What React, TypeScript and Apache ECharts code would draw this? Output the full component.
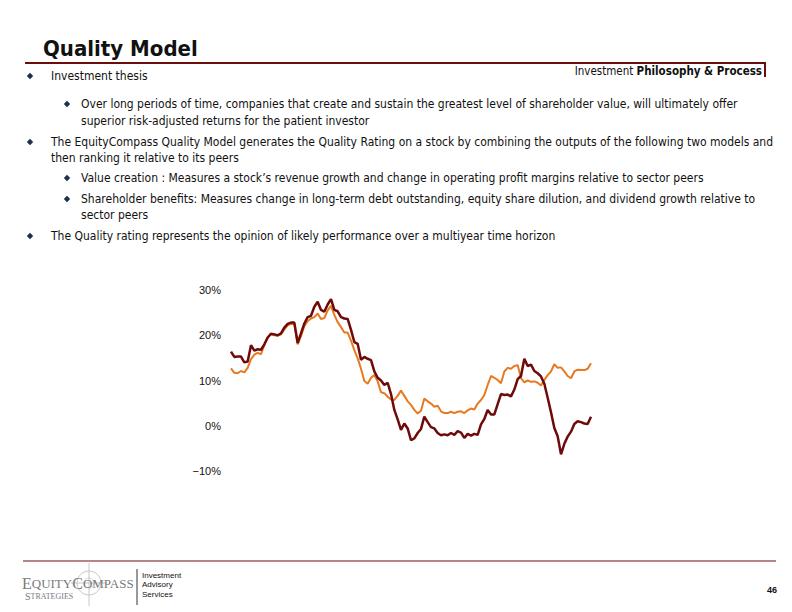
import React, { useEffect, useRef } from "react";
import * as echarts from "echarts";

const yTicks = [-10, 0, 10, 20, 30];

const seriesDark = [
  16.4, 15.2, 15.3, 15.3, 14.0, 14.2, 17.8, 16.6, 16.9, 16.8,
  18.0, 19.5, 20.3, 20.2, 20.0, 20.4, 21.7, 22.5, 22.8, 22.8,
  18.3, 20.4, 22.6, 24.0, 24.3, 26.3, 27.4, 25.6, 25.2, 26.8,
  28.0, 25.6, 25.3, 24.0, 23.7, 23.6, 21.2, 18.5, 18.1, 14.6,
  15.2, 14.8, 14.5, 12.0, 10.6, 10.0, 9.0, 9.5, 7.0, 3.5,
  1.4, -0.9, 0.5, -0.6, -3.2, -2.8, -1.6, -0.7, 2.0, 0.8,
  -0.3, -0.6, -1.6, -2.1, -1.9, -2.1, -1.6, -2.0, -1.2, -1.5,
  -2.7, -1.8, -2.2, -1.8, -2.0, 0.3, 1.5, 3.5, 2.5, 2.5,
  4.8, 7.0, 6.8, 6.9, 6.5, 8.0, 10.3, 11.0, 14.8, 13.2,
  13.5, 12.1, 11.6, 10.9, 9.3, 6.2, 3.0, -0.5, -2.3, -6.3,
  -4.0, -2.4, -1.3, 0.4, 1.0, 0.8, 0.5, 0.4, 2.0,
];

const seriesOrange = [
  12.7, 11.7, 11.6, 12.1, 11.8, 12.8, 14.7, 15.7, 16.1, 15.8,
  17.8, 19.5, 20.4, 20.0, 19.9, 20.2, 21.3, 22.2, 22.5, 22.5,
  18.0, 19.8, 22.0, 23.1, 23.7, 24.0, 24.8, 23.6, 23.8, 25.5,
  26.5, 24.5, 22.9, 21.8, 20.6, 20.6, 18.8, 16.7, 14.9, 12.6,
  9.9, 9.3, 10.6, 11.2, 9.8, 7.4, 7.2, 6.4, 5.8, 5.7,
  6.6, 7.8, 6.6, 5.4, 4.6, 3.5, 2.7, 3.3, 6.0, 5.4,
  4.9, 4.2, 4.4, 3.2, 2.8, 2.8, 3.1, 2.8, 3.1, 3.2,
  2.8, 3.4, 3.8, 3.6, 4.9, 5.7, 6.8, 9.0, 11.0, 10.6,
  10.1, 9.4, 12.0, 12.8, 12.6, 13.2, 13.4, 10.5, 9.6, 10.0,
  9.7, 9.8, 9.5, 8.9, 10.1, 11.2, 12.0, 13.6, 12.8, 12.9,
  12.0, 11.0, 10.5, 12.0, 12.4, 12.3, 12.3, 12.6, 13.8,
];

const periods = seriesDark.map((_, i) => String(i + 1));

const titleText = "Quality Model";
const headerPlain = "Investment ";
const headerBold = "Philosophy & Process";
const pageNumber = "46";
const footerLines = ["Investment", "Advisory", "Services"];

type Line = { level: number; bullet: boolean; text: string };
const bodyLines: Line[] = [
  { level: 1, bullet: true, text: "Investment thesis" },
  { level: 2, bullet: true, text: "Over long periods of time, companies that create and sustain the greatest level of shareholder value, will ultimately offer" },
  { level: 2, bullet: false, text: "superior risk-adjusted returns for the patient investor" },
  { level: 1, bullet: true, text: "The EquityCompass Quality Model generates the Quality Rating on a stock by combining the outputs of the following two models and" },
  { level: 1, bullet: false, text: "then ranking it relative to its peers" },
  { level: 2, bullet: true, text: "Value creation : Measures a stock\u2019s revenue growth and change in operating profit margins relative to sector peers" },
  { level: 2, bullet: true, text: "Shareholder benefits: Measures change in long-term debt outstanding, equity share dilution, and dividend growth relative to" },
  { level: 2, bullet: false, text: "sector peers" },
  { level: 1, bullet: true, text: "The Quality rating represents the opinion of likely performance over a multiyear time horizon" },
];
const lineYs = [76, 104, 121, 142, 158, 178, 199, 215, 236];

const BODY_FONT = '"DejaVu Sans Condensed", "DejaVu Sans", sans-serif';
const MAROON = "#6b0d0d";

export default function App() {
  const ref = useRef<HTMLDivElement>(null);
  useEffect(() => {
    if (!ref.current) return;
    const chart = echarts.init(ref.current, null, { renderer: "svg" });

    const graphics: any[] = [];
    graphics.push({
      type: "text", x: 43, y: 48,
      style: { text: titleText, fontFamily: BODY_FONT, fontWeight: "bold", fontSize: 22, fill: "#111", textAlign: "left", textVerticalAlign: "middle" },
    });
    graphics.push({ type: "line", shape: { x1: 25, y1: 63, x2: 765, y2: 63 }, style: { stroke: MAROON, lineWidth: 2 } });
    graphics.push({ type: "line", shape: { x1: 765, y1: 62, x2: 765, y2: 77 }, style: { stroke: MAROON, lineWidth: 2 } });
    graphics.push({
      type: "text", x: 762, y: 71,
      style: {
        text: "{a|" + headerPlain + "}{b|" + headerBold + "}",
        textAlign: "right", textVerticalAlign: "middle",
        rich: {
          a: { fontFamily: BODY_FONT, fontSize: 11.5, fill: "#111" },
          b: { fontFamily: BODY_FONT, fontSize: 11.5, fontWeight: "bold", fill: "#111" },
        },
      },
    });
    bodyLines.forEach((ln, i) => {
      const y = lineYs[i];
      const tx = ln.level === 1 ? 51 : 81;
      const bx = ln.level === 1 ? 30 : 67;
      if (ln.bullet) {
        graphics.push({
          type: "polygon",
          shape: { points: [[bx, y - 3.2], [bx + 3.2, y], [bx, y + 3.2], [bx - 3.2, y]] },
          style: { fill: "#1f2f4f" },
        });
      }
      graphics.push({
        type: "text", x: tx, y,
        style: { text: ln.text, fontFamily: BODY_FONT, fontSize: 12, fill: "#111", textAlign: "left", textVerticalAlign: "middle" },
      });
    });
    graphics.push({ type: "line", shape: { x1: 23, y1: 561, x2: 776, y2: 561 }, style: { stroke: MAROON, lineWidth: 1 } });
    graphics.push({ type: "circle", shape: { cx: 89, cy: 583, r: 12 }, style: { fill: "none", stroke: "#c8c8c8", lineWidth: 1 } });
    graphics.push({ type: "circle", shape: { cx: 89, cy: 583, r: 5 }, style: { fill: "none", stroke: "#d0d0d0", lineWidth: 1 } });
    graphics.push({ type: "line", shape: { x1: 89, y1: 563, x2: 89, y2: 606 }, style: { stroke: "#c8c8c8", lineWidth: 1 } });
    graphics.push({ type: "line", shape: { x1: 71, y1: 583, x2: 107, y2: 583 }, style: { stroke: "#c8c8c8", lineWidth: 1 } });
    graphics.push({
      type: "text", x: 22, y: 583,
      style: {
        text: "{b|E}{s|QUITY}{b|C}{s|OMPASS}",
        textAlign: "left", textVerticalAlign: "middle",
        rich: {
          b: { fontFamily: '"Liberation Serif", serif', fontSize: 16, lineHeight: 14, fill: "#7a7a7a" },
          s: { fontFamily: '"Liberation Serif", serif', fontSize: 13, lineHeight: 14, fill: "#7a7a7a" },
        },
      },
    });
    graphics.push({
      type: "text", x: 25, y: 596,
      style: {
        text: "{b|S}{s|TRATEGIES}",
        textAlign: "left", textVerticalAlign: "middle",
        rich: {
          b: { fontFamily: '"Liberation Serif", serif', fontSize: 10, lineHeight: 9, fill: "#7a7a7a" },
          s: { fontFamily: '"Liberation Serif", serif', fontSize: 8, lineHeight: 9, fill: "#7a7a7a" },
        },
      },
    });
    graphics.push({ type: "line", shape: { x1: 137, y1: 569, x2: 137, y2: 605 }, style: { stroke: "#333", lineWidth: 1 } });
    footerLines.forEach((t, i) => {
      graphics.push({
        type: "text", x: 142, y: 575 + i * 9.5,
        style: { text: t, fontFamily: '"Liberation Sans", Arial, sans-serif', fontSize: 8, fill: "#111", textAlign: "left", textVerticalAlign: "middle" },
      });
    });
    graphics.push({
      type: "text", x: 772, y: 590,
      style: { text: pageNumber, fontFamily: '"Liberation Sans", Arial, sans-serif', fontSize: 9, fontWeight: "bold", fill: "#111", textAlign: "center", textVerticalAlign: "middle" },
    });

    chart.setOption({
      animation: false,
      backgroundColor: "#ffffff",
      grid: { left: 231, right: 201, top: 290, bottom: 141, containLabel: false },
      xAxis: {
        type: "category",
        data: periods,
        boundaryGap: false,
        show: false,
      },
      yAxis: {
        type: "value",
        min: yTicks[0],
        max: yTicks[yTicks.length - 1],
        interval: 10,
        axisLine: { show: false },
        axisTick: { show: false },
        splitLine: { show: false },
        axisLabel: {
          formatter: (v: number) => (v < 0 ? "\u2212" + Math.abs(v) : String(v)) + "%",
          fontFamily: '"Liberation Sans", Arial, sans-serif',
          fontSize: 11,
          color: "#111",
          margin: 10,
        },
      },
      series: [
        {
          name: "Orange",
          type: "line",
          data: seriesOrange,
          symbol: "none",
          lineStyle: { color: "#e8791e", width: 2 },
          z: 2,
        },
        {
          name: "Dark",
          type: "line",
          data: seriesDark,
          symbol: "none",
          lineStyle: { color: "#6e0a0a", width: 2.5 },
          z: 3,
        },
      ],
      graphic: graphics,
    });
    return () => chart.dispose();
  }, []);
  return (
    <div
      ref={ref}
      style={{ position: "absolute", left: 0, top: 0, width: 792, height: 612, background: "#fff" }}
    />
  );
}
